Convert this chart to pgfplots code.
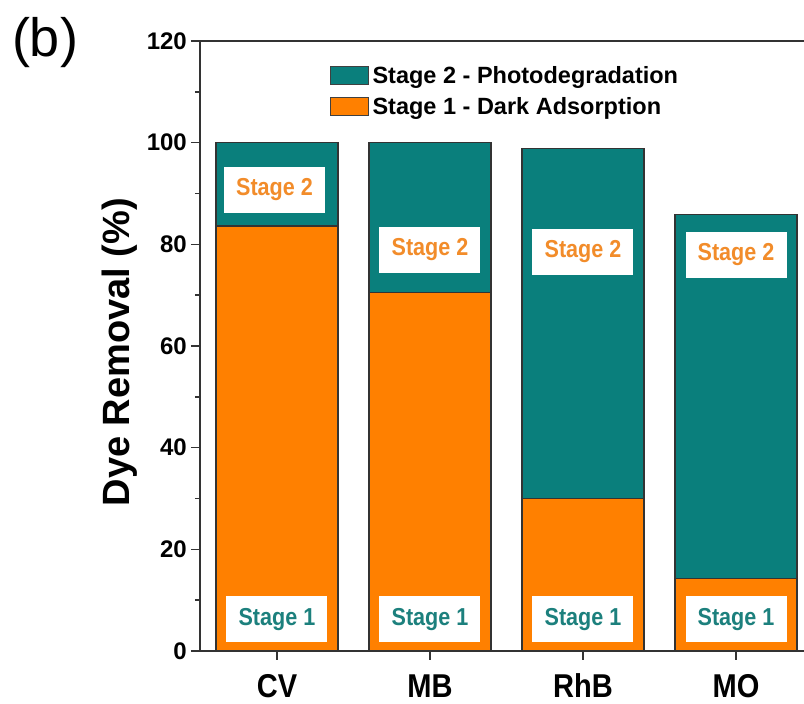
\documentclass[border=0pt]{standalone}
\usepackage{fontspec}
\setmainfont{Liberation Sans}
\newfontfamily\condensed[FakeStretch=0.88]{Liberation Sans}
\usepackage{pgfplots}
\pgfplotsset{compat=1.18}
\definecolor{teal2}{HTML}{0A7F7C}
\definecolor{orng}{HTML}{FF8000}
\definecolor{orngtxt}{HTML}{F28C2A}
\definecolor{tealtxt}{HTML}{1C807D}
\definecolor{axcol}{HTML}{333333}
\pgfplotsset{
  mylegend/.style={legend image code/.code={\draw[##1,draw=black!75,line width=1pt] (0pt,-9pt) rectangle (38pt,9pt);}},
}
\tikzset{lab/.style={fill=white, minimum width=101pt, minimum height=46pt, inner sep=0pt, font=\condensed\fontsize{24.5}{28}\selectfont\bfseries}}
\begin{document}
\begin{tikzpicture}
\useasboundingbox (0,0) rectangle (804pt,704pt);
\node[font=\fontsize{54}{62}\selectfont] at (45pt,661pt) {(b)};
\begin{axis}[
  at={(200pt,53pt)}, anchor=south west,
  scale only axis, width=612.5pt, height=610pt,
  xmin=-0.503, xmax=3.5, ymin=0, ymax=120,
  ybar stacked, bar width=122pt,
  xtick={0,1,2,3}, xticklabels={CV,MB,RhB,MO},
  ytick={0,20,...,120}, minor ytick={10,30,...,110},
  xtick pos=bottom, ytick pos=left,
  tick align=outside,
  major tick length=9pt, minor tick length=5pt,
  every tick/.style={axcol, line width=1.5pt},
  axis line style={axcol, line width=1.8pt},
  /pgf/number format/assume math mode=true,
  yticklabel style={font=\fontsize{24}{28}\selectfont\bfseries, inner sep=4pt},
  xticklabel style={font=\condensed\fontsize{33}{37}\selectfont\bfseries, inner sep=0pt, text height=24pt, text depth=0pt, anchor=north, yshift=-13pt},
  ylabel={Dye Removal (\%)},
  ylabel style={font=\fontsize{38}{44}\selectfont\bfseries, at={(axis description cs:-0.1306,0.49)}, anchor=center},
  reverse legend,
  legend cell align=left,
  legend style={at={(axis description cs:0.212,0.965)}, anchor=north west, draw=none, fill=none,
    inner sep=0pt, font=\fontsize{23.5}{27}\selectfont\bfseries, row sep=6pt,
    nodes={inner sep=3.5pt}},
  clip=false,
  after end axis/.code={
    \node[lab, text=orngtxt] at (axis cs:-0.016,90.7) {Stage 2};
    \node[lab, text=orngtxt] at (axis cs:1,78.9) {Stage 2};
    \node[lab, text=orngtxt] at (axis cs:2,78.5) {Stage 2};
    \node[lab, text=orngtxt] at (axis cs:3,77.9) {Stage 2};
    \node[lab, text=tealtxt] at (axis cs:0,6.2) {Stage 1};
    \node[lab, text=tealtxt] at (axis cs:1,6.2) {Stage 1};
    \node[lab, text=tealtxt] at (axis cs:2,6.2) {Stage 1};
    \node[lab, text=tealtxt] at (axis cs:3,6.2) {Stage 1};
  },
]
\addplot[mylegend, fill=orng, draw=black!80, line width=1.2pt] coordinates {(0,83.6) (1,70.5) (2,30.0) (3,14.3)};
\addlegendentry{Stage 1 - Dark Adsorption}
\addplot[mylegend, fill=teal2, draw=black!80, line width=1.2pt] coordinates {(0,16.4) (1,29.5) (2,68.9) (3,71.5)};
\addlegendentry{Stage 2 - Photodegradation}
\end{axis}
\end{tikzpicture}
\end{document}
